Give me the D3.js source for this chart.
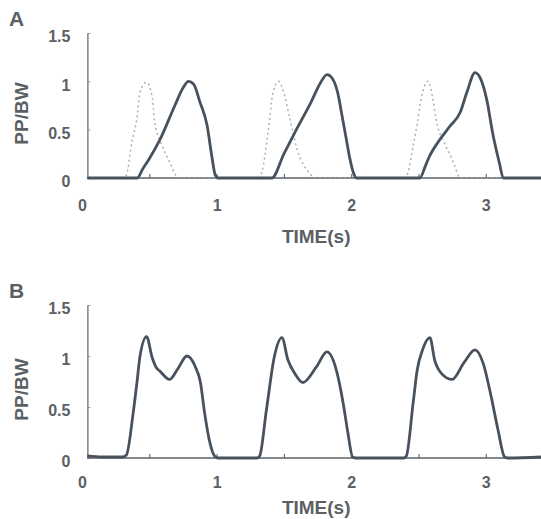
<!DOCTYPE html>
<html>
<head>
<meta charset="utf-8">
<script src="https://cdn.jsdelivr.net/npm/d3@7"></script>
<style>
    body { margin: 0; background: #fff; }
    svg text { font-family: "Liberation Sans", Arial, sans-serif; font-weight: bold; fill: #5c5f63; }
</style>
</head>
<body>
<svg id="chart" width="541" height="519"></svg>
<script>
const timeLabels = [0, 1, 2, 3];
const timeTicks = [0.5, 1, 1.5, 2, 2.5, 3];
const yTicks = [0, 0.5, 1, 1.5];
const yTickLabels = ['0', '0.5', '1', '1.5'];
const timeStart = 0.04;
const timeEnd = 3.41;

// panel A, solid trace
const solidATime = [0.04, 0.41, 0.45, 0.5, 0.58, 0.69, 0.75, 0.79, 0.83, 0.875, 0.93, 0.965, 0.99, 1.01,
    1.41, 1.5, 1.6, 1.7, 1.77, 1.82, 1.86, 1.9, 1.93, 1.96, 1.99, 2.02, 2.04,
    2.51, 2.55, 2.58, 2.66, 2.73, 2.81, 2.86, 2.92, 2.96, 3.01, 3.05, 3.1, 3.13, 3.41];
const solidAValue = [0, 0, 0.09, 0.2, 0.4, 0.75, 0.93, 1.0, 0.97, 0.79, 0.54, 0.22, 0.03, 0,
    0, 0.25, 0.52, 0.78, 0.98, 1.07, 1.03, 0.88, 0.66, 0.43, 0.2, 0.04, 0,
    0, 0.12, 0.22, 0.4, 0.53, 0.68, 0.89, 1.09, 1.03, 0.79, 0.47, 0.16, 0, 0];

// panel A, dotted trace
const dottedATime = [0.04, 0.31, 0.33, 0.37, 0.41, 0.43, 0.48, 0.52, 0.54, 0.59, 0.65, 0.71, 0.75,
    1.31, 1.34, 1.38, 1.42, 1.46, 1.5, 1.54, 1.6, 1.69, 1.73,
    2.4, 2.42, 2.46, 2.49, 2.52, 2.57, 2.61, 2.63, 2.69, 2.75, 2.77, 2.81, 3.41];
const dottedAValue = [0, 0, 0.03, 0.37, 0.64, 0.89, 0.99, 0.85, 0.58, 0.35, 0.17, 0.01, 0,
    0, 0.08, 0.45, 0.89, 1.0, 0.88, 0.64, 0.29, 0.05, 0,
    0, 0.05, 0.33, 0.56, 0.82, 1.0, 0.79, 0.61, 0.37, 0.19, 0.12, 0, 0];

// panel B trace
const solidBTime = [0.04, 0.15, 0.3, 0.33, 0.38, 0.41, 0.43, 0.48, 0.52, 0.55, 0.58, 0.65, 0.71, 0.78, 0.84, 0.88, 0.91, 0.95, 0.99, 1.01,
    1.3, 1.32, 1.37, 1.43, 1.485, 1.53, 1.58, 1.64, 1.74, 1.82, 1.89, 1.94, 1.975, 2.01, 2.03,
    2.39, 2.41, 2.46, 2.49, 2.53, 2.585, 2.62, 2.67, 2.75, 2.84, 2.92, 2.98, 3.04, 3.09, 3.14, 3.16, 3.41];
const solidBValue = [0.02, 0.01, 0.01, 0.03, 0.44, 0.76, 0.99, 1.19, 0.99, 0.89, 0.85, 0.77, 0.87, 1.0, 0.9, 0.74, 0.45, 0.15, 0.01, 0,
    0, 0.02, 0.47, 1.0, 1.18, 0.96, 0.83, 0.74, 0.89, 1.04, 0.86, 0.54, 0.25, 0.01, 0,
    0, 0.02, 0.54, 0.86, 1.06, 1.18, 0.96, 0.83, 0.77, 0.94, 1.06, 0.93, 0.6, 0.28, 0.01, 0, 0.01];

const svg = d3.select('#chart');

const x = d3.scaleLinear()
    .domain([0, timeEnd])
    .range([82, 541]);

function drawPanel(label, top, bottom, labelPad, titlePad, series) {
    let y = d3.scaleLinear().domain([0, 1.5]).range([bottom, top]);
    let g = svg.append('g');
    let axisX = x(timeStart);

    g.append('text')
        .attr('x', 9)
        .attr('y', top - 7)
        .style('font-size', '21px')
        .text(label);

    g.append('text')
        .attr('transform', 'translate(28,' + (y(0.75) + 8) + ') rotate(-90)')
        .attr('text-anchor', 'middle')
        .style('font-size', '19px')
        .text('PP/BW');

    // y axis, small ticks pointing inwards
    let yAxis = g.append('g')
        .attr('transform', 'translate(' + axisX + ',0)')
        .call(d3.axisLeft(y)
            .tickValues(yTicks)
            .tickFormat(d => yTickLabels[yTicks.indexOf(d)])
            .tickSize(-3)
            .tickSizeOuter(0)
            .tickPadding(17));
    yAxis.select('.domain').attr('stroke', '#6a6d70').attr('stroke-width', 1.3);
    yAxis.selectAll('.tick line').attr('stroke', '#9a9c9e').attr('stroke-width', 1);
    yAxis.selectAll('text')
        .attr('dy', '0.55em')
        .style('font-size', '16px');

    // x axis: minor ticks upward, labels only on whole seconds
    let xTicks = g.append('g')
        .attr('transform', 'translate(0,' + y(0) + ')')
        .call(d3.axisTop(x).tickValues(timeTicks).tickFormat('').tickSize(4));
    xTicks.select('.domain').remove();
    xTicks.selectAll('.tick line').attr('stroke', '#6a6d70').attr('stroke-width', 1.2);

    let xLabels = g.append('g')
        .attr('transform', 'translate(0,' + y(0) + ')')
        .call(d3.axisBottom(x).tickValues(timeLabels).tickFormat(d3.format('d')).tickSize(0).tickPadding(labelPad));
    xLabels.select('.domain').remove();
    xLabels.selectAll('text').style('font-size', '16px');

    g.append('line')
        .attr('x1', axisX)
        .attr('x2', x(timeEnd))
        .attr('y1', y(0))
        .attr('y2', y(0))
        .attr('stroke', '#5a6066')
        .attr('stroke-width', 1.6);

    g.append('text')
        .attr('x', x(1.74))
        .attr('y', y(0) + titlePad)
        .attr('text-anchor', 'middle')
        .style('font-size', '19px')
        .text('TIME(s)');

    let line = d3.line()
        .x(d => x(d[0]))
        .y(d => y(d[1]))
        .curve(d3.curveMonotoneX);

    series.forEach(s => {
        let path = g.append('path')
            .datum(d3.zip(s.time, s.value))
            .attr('d', line)
            .attr('fill', 'none')
            .attr('stroke-linejoin', 'round');
        if (s.dotted) {
            path.attr('stroke', '#9aa0a5')
                .attr('stroke-width', 1.7)
                .attr('stroke-dasharray', '0.5 4.5')
                .attr('stroke-linecap', 'round')
                .attr('opacity', 0.8);
        } else {
            path.attr('stroke', '#48525c')
                .attr('stroke-width', 2.8);
        }
    });
}

drawPanel('A', 33, 178, 22, 65, [
    {time: dottedATime, value: dottedAValue, dotted: true},
    {time: solidATime, value: solidAValue, dotted: false}
]);

drawPanel('B', 305, 458, 19, 56, [
    {time: solidBTime, value: solidBValue, dotted: false}
]);
</script>
</body>
</html>
